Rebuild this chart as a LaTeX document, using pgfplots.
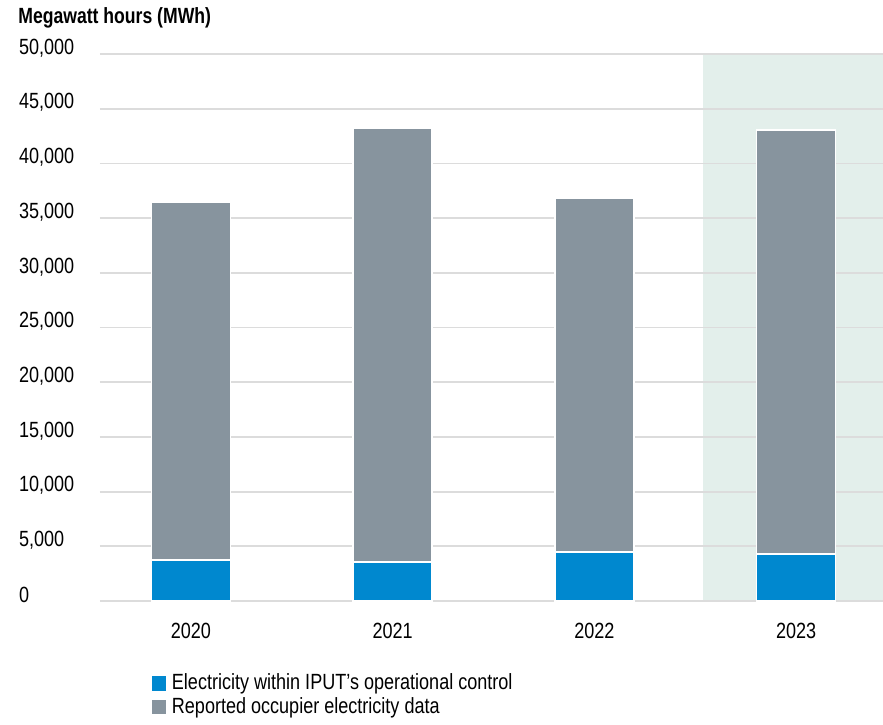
\documentclass[border=0pt]{standalone}
\usepackage{pgfplots}
\pgfplotsset{compat=1.18}
\usepackage{fontspec}
\setmainfont{Liberation Sans}[FakeStretch=0.82]
\newfontfamily\titlefont{Liberation Sans}[FakeStretch=0.80]
\definecolor{cblue}{HTML}{0088CF}
\definecolor{cgray}{HTML}{87949E}
\definecolor{cband}{HTML}{E3EFEB}
\definecolor{cgrid}{HTML}{DCDCDC}
\begin{document}
\begin{tikzpicture}[x=1pt,y=1pt]
\path[use as bounding box] (0,0) rectangle (441.5,362);
\fill[cband] (351.5,61.5) rectangle (441.5,335);
\node[anchor=west, font=\titlefont\bfseries\fontsize{11}{13}\selectfont, inner sep=0pt] at (9,353) {Megawatt hours (MWh)};
\begin{axis}[
 at={(50pt,61.5pt)}, anchor=south west, scale only axis,
 width=391.5pt, height=273.5pt,
 ybar stacked, bar width=39.5pt,
 xmin=-0.451, xmax=3.431, ymin=0, ymax=50000,
 xtick={0,1,2,3}, xticklabels={2020,2021,2022,2023},
 ytick={0,5000,...,50000},
 ymajorgrids, grid style={cgrid, line width=0.9pt},
 axis line style={draw=none},
 major tick length=0pt,
 /pgf/number format/assume math mode=true,
 /pgf/number format/1000 sep={,},
 scaled y ticks=false,
 tick label style={font=\fontsize{11}{13}\selectfont, text=black},
 yticklabel style={anchor=west, xshift=-44pt, yshift=3pt},
 xticklabel style={yshift=-7.5pt},
 legend style={at={(0.0639,-0.125)}, anchor=north west, draw=none, fill=none,
   font=\fontsize{11}{12}\selectfont, inner sep=0pt, row sep=-1.5pt,
   /tikz/every even column/.append style={column sep=0pt}},
 legend cell align=left,
 legend image code/.code={\fill[#1] (0pt,-4pt) rectangle (8pt,4pt);},
]
\addplot[fill=cblue, draw=white, line width=0.75pt] coordinates {(0,3750) (1,3560) (2,4480) (3,4300)};
\addplot[fill=cgray, draw=white, line width=0.75pt] coordinates {(0,32720) (1,39680) (2,32360) (3,38750)};
\legend{Electricity within IPUT's operational control, Reported occupier electricity data}
\end{axis}
\end{tikzpicture}
\end{document}
